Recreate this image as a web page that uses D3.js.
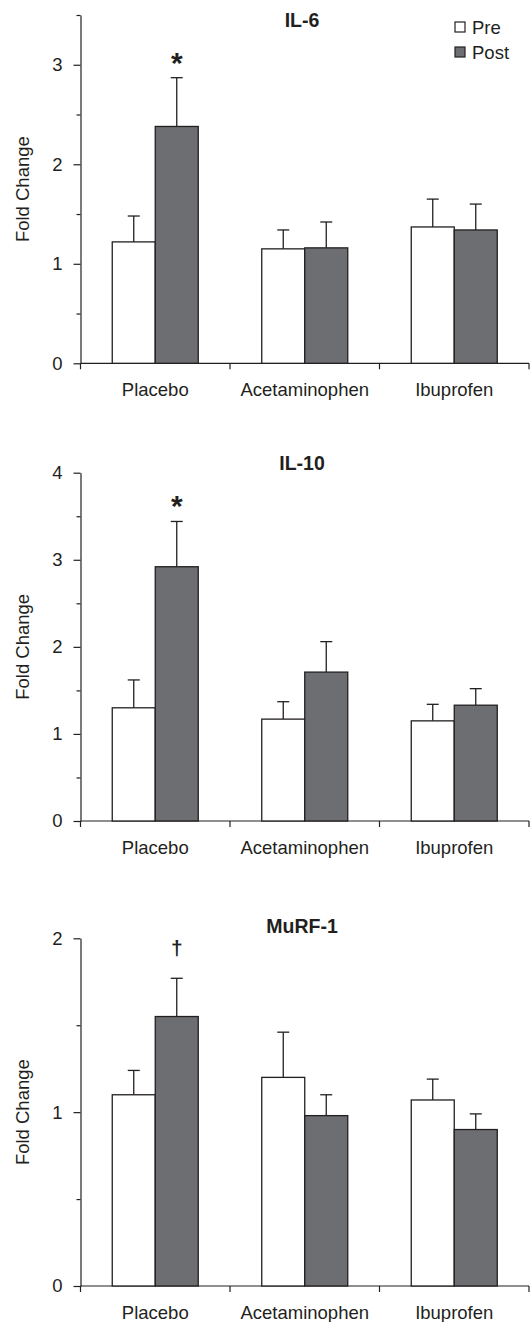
<!DOCTYPE html>
<html>
<head>
<meta charset="utf-8">
<script src="https://cdn.jsdelivr.net/npm/d3@7"></script>
<style>
  body { margin: 0; background: #fff; }
  svg { display: block; font-family: "Liberation Sans", Arial, sans-serif; }
</style>
</head>
<body>
<div id="chart"></div>
<script>
const groups = ["Placebo", "Acetaminophen", "Ibuprofen"];
const series = ["Pre", "Post"];

// IL-6 (mean, and one-sided error)
const il6Pre = [1.22, 1.15, 1.37];
const il6PreErr = [0.26, 0.19, 0.28];
const il6Post = [2.38, 1.16, 1.34];
const il6PostErr = [0.49, 0.26, 0.26];
const il6Ticks = [0, 1, 2, 3];

// IL-10
const il10Pre = [1.30, 1.17, 1.15];
const il10PreErr = [0.32, 0.20, 0.19];
const il10Post = [2.92, 1.71, 1.33];
const il10PostErr = [0.52, 0.35, 0.19];
const il10Ticks = [0, 1, 2, 3, 4];

// MuRF-1
const murfPre = [1.10, 1.20, 1.07];
const murfPreErr = [0.14, 0.26, 0.12];
const murfPost = [1.55, 0.98, 0.90];
const murfPostErr = [0.22, 0.12, 0.09];
const murfTicks = [0, 1, 2];

const width = 530, height = 1322;
const left = 80.5, right = 529;
const ink = "#231f20";
const postFill = "#6d6e71";
const fs = 18.5;

const svg = d3.select("#chart").append("svg")
  .attr("width", width)
  .attr("height", height);

const panels = [
  { title: "IL-6", pre: il6Pre, preErr: il6PreErr, post: il6Post, postErr: il6PostErr,
    ticks: il6Ticks, max: 3.5, mark: "*", top: 15, bottom: 363.3, titleY: 27, legend: true },
  { title: "IL-10", pre: il10Pre, preErr: il10PreErr, post: il10Post, postErr: il10PostErr,
    ticks: il10Ticks, max: 4, mark: "*", top: 472.7, bottom: 821, titleY: 470 },
  { title: "MuRF-1", pre: murfPre, preErr: murfPreErr, post: murfPost, postErr: murfPostErr,
    ticks: murfTicks, max: 2, mark: "\u2020", top: 938.3, bottom: 1286, titleY: 933 }
];

panels.forEach(drawPanel);

function drawPanel(p) {
  const y = d3.scaleLinear().domain([0, p.max]).range([p.bottom, p.top]);
  const x0 = d3.scaleBand().domain(groups).range([left, right]);
  const bw = x0.bandwidth();
  const x1 = d3.scaleBand().domain(series).range([bw / 2 - 43, bw / 2 + 43]);

  const g = svg.append("g");

  // y axis, major + minor ticks
  const yAxis = g.append("g")
    .attr("transform", `translate(${left},0)`)
    .call(d3.axisLeft(y).tickValues(p.ticks).tickFormat(d3.format("d"))
      .tickSize(7).tickSizeOuter(0).tickPadding(11));
  yAxis.append("g")
    .call(d3.axisLeft(y).tickValues(d3.range(0.5, p.max + 0.01, 1)).tickSize(4).tickFormat(""))
    .select(".domain").remove();
  yAxis.selectAll("path, line").attr("stroke", ink).attr("stroke-width", 1.2);
  yAxis.selectAll("text")
    .attr("font-size", fs)
    .attr("fill", ink);
  yAxis.attr("font-family", null).attr("font-size", null);

  // x axis baseline with group separators
  const xa = g.append("g").attr("stroke", ink).attr("stroke-width", 1.2);
  xa.append("line")
    .attr("x1", left).attr("x2", right)
    .attr("y1", y(0)).attr("y2", y(0));
  xa.selectAll(".sep")
    .data([left].concat(groups.map(d => x0(d) + bw)))
    .join("line")
    .attr("class", "sep")
    .attr("x1", d => d).attr("x2", d => d)
    .attr("y1", y(0)).attr("y2", y(0) + 6);

  g.append("g").selectAll("text")
    .data(groups)
    .join("text")
    .attr("x", d => x0(d) + bw / 2)
    .attr("y", y(0) + 33)
    .attr("text-anchor", "middle")
    .attr("font-size", fs)
    .attr("fill", ink)
    .text(d => d);

  // bars
  const rows = groups.flatMap((name, i) => [
    { name, s: "Pre", v: p.pre[i], e: p.preErr[i] },
    { name, s: "Post", v: p.post[i], e: p.postErr[i] }
  ]);

  const bar = g.append("g").selectAll("g")
    .data(rows)
    .join("g")
    .attr("transform", d => `translate(${x0(d.name) + x1(d.s)},0)`);

  bar.append("line")
    .attr("x1", x1.bandwidth() / 2).attr("x2", x1.bandwidth() / 2)
    .attr("y1", d => y(d.v)).attr("y2", d => y(d.v + d.e))
    .attr("stroke", ink).attr("stroke-width", 1.3);
  bar.append("line")
    .attr("x1", x1.bandwidth() / 2 - 6).attr("x2", x1.bandwidth() / 2 + 6)
    .attr("y1", d => y(d.v + d.e)).attr("y2", d => y(d.v + d.e))
    .attr("stroke", ink).attr("stroke-width", 1.3);
  bar.append("rect")
    .attr("x", 0)
    .attr("y", d => y(d.v))
    .attr("width", x1.bandwidth())
    .attr("height", d => y(0) - y(d.v))
    .attr("fill", d => d.s === "Pre" ? "#fff" : postFill)
    .attr("stroke", ink)
    .attr("stroke-width", 1.3);

  // significance mark over placebo post
  const sig = rows[1];
  const sx = x0(sig.name) + x1(sig.s) + x1.bandwidth() / 2;
  if (p.mark === "*") {
    g.append("text")
      .attr("x", sx)
      .attr("y", y(sig.v + sig.e) - 5)
      .attr("text-anchor", "middle")
      .attr("font-size", 30)
      .attr("font-weight", "bold")
      .attr("fill", ink)
      .text(p.mark);
  } else {
    g.append("text")
      .attr("x", sx)
      .attr("y", y(sig.v + sig.e) - 23)
      .attr("text-anchor", "middle")
      .attr("font-size", 21)
      .attr("font-weight", "bold")
      .attr("fill", ink)
      .text(p.mark);
  }

  // y label
  g.append("text")
    .attr("transform", `translate(29,${(p.top + p.bottom) / 2}) rotate(-90)`)
    .attr("text-anchor", "middle")
    .attr("font-size", fs)
    .attr("fill", ink)
    .text("Fold Change");

  // title
  g.append("text")
    .attr("x", 302)
    .attr("y", p.titleY)
    .attr("text-anchor", "middle")
    .attr("font-size", 19.5)
    .attr("font-weight", "bold")
    .attr("fill", ink)
    .text(p.title);

  if (p.legend) {
    const lg = g.append("g").attr("transform", "translate(455,22)");
    const item = lg.selectAll("g")
      .data(series)
      .join("g")
      .attr("transform", (d, i) => `translate(0,${i * 25})`);
    item.append("rect")
      .attr("width", 10).attr("height", 10)
      .attr("fill", d => d === "Pre" ? "#fff" : postFill)
      .attr("stroke", ink).attr("stroke-width", 1.2);
    item.append("text")
      .attr("x", 17).attr("y", 11.5)
      .attr("font-size", fs)
      .attr("fill", ink)
      .text(d => d);
  }
}
</script>
</body>
</html>
